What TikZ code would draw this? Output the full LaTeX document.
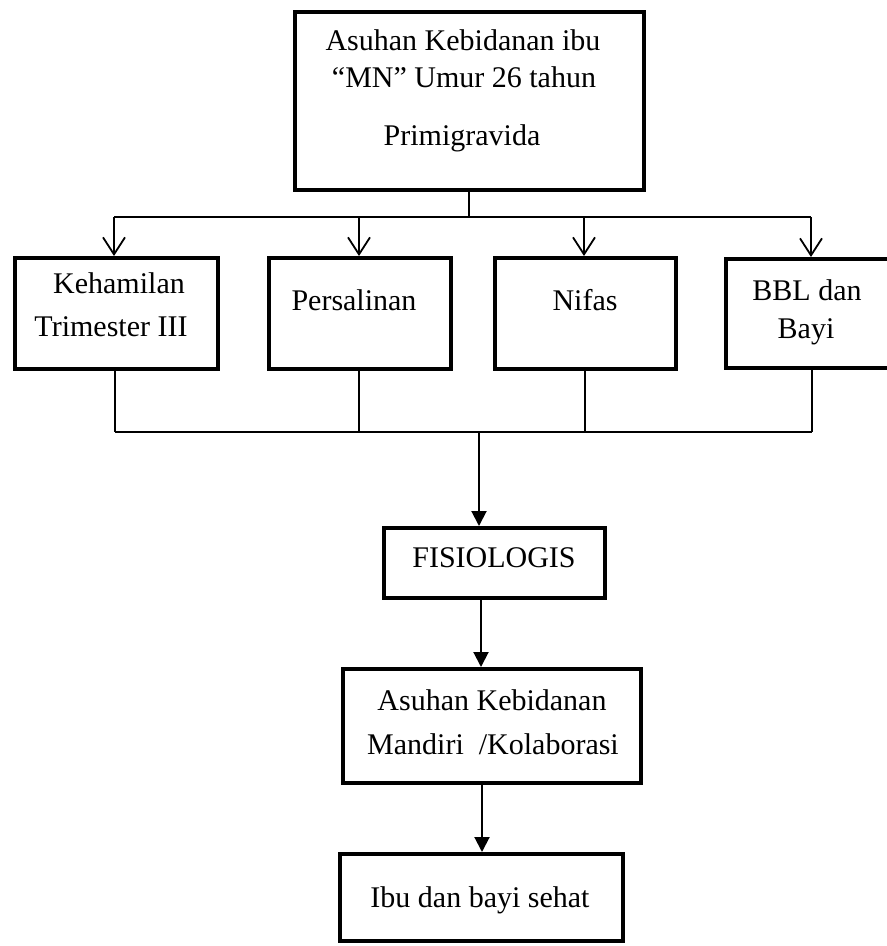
\documentclass[tikz,border=0pt]{standalone}
\usepackage{fontspec}
\setmainfont{Liberation Serif}
\usetikzlibrary{arrows.meta}
\begin{document}
\begin{tikzpicture}[x=1pt,y=-1pt,
  box/.style={draw,line width=4pt,rectangle,inner sep=0pt,minimum width=#1},
  txt/.style={anchor=base,inner sep=0pt,font=\fontsize{30}{36}\selectfont},
  thin/.style={line width=1.5pt},
  openarrow/.style={line width=1.8pt,-{Straight Barb[length=17pt,width=22pt,line width=1.8pt]}},
  fillarrow/.style={line width=2pt,-{Triangle[length=15pt,width=15pt]}}]
\useasboundingbox (0,0) rectangle (887,946);
\clip (0,0) rectangle (887,946);
% boxes
\node[box=349pt,minimum height=178pt] (top) at (469.5,101) {};
\node[box=203pt,minimum height=111pt] (b1) at (116.5,313.5) {};
\node[box=182pt,minimum height=111pt] (b2) at (360,313.5) {};
\node[box=181pt,minimum height=111pt] (b3) at (585.5,313.5) {};
\node[box=220pt,minimum height=109pt] (b4) at (836,313.5) {};
\node[box=221pt,minimum height=70pt] (fis) at (494.5,563) {};
\node[box=298pt,minimum height=114pt] (asu) at (492,726) {};
\node[box=283pt,minimum height=87pt] (ibu) at (481.5,897.5) {};
% texts
\node[txt] (t1a) at (463,50) {Asuhan Kebidanan ibu};
\node[txt] (t1b) at (464,87) {“MN” Umur 26 tahun};
\node[txt] (t1c) at (462,145) {Primigravida};
\node[txt] (k1) at (119,293) {Kehamilan};
\node[txt] (k2) at (111,336) {Trimester III};
\node[txt] (p1) at (354,310) {Persalinan};
\node[txt] (n1) at (585,310) {Nifas};
\node[txt] (bb1) at (807,300) {BBL dan};
\node[txt] (bb2) at (806,338) {Bayi};
\node[txt] (f1) at (494,567) {FISIOLOGIS};
\node[txt] (a1) at (492,710) {Asuhan Kebidanan};
\node[txt] (a2) at (493,754) {Mandiri \ /Kolaborasi};
\node[txt] (i1) at (480,907) {Ibu dan bayi sehat};
% top distribution
\coordinate (j1) at (469,217);
\coordinate (u1) at (114,217);
\coordinate (u2) at (359,217);
\coordinate (u3) at (584,217);
\coordinate (u4) at (811,217);
\draw[thin] (top.south -| j1) -- (j1);
\draw[thin] (u1) -- (u4);
\draw[openarrow] (u1) -- (u1 |- b1.north);
\draw[openarrow] (u2) -- (u2 |- b2.north);
\draw[openarrow] (u3) -- (u3 |- b3.north);
\draw[openarrow] (u4) -- (u4 |- b4.north);
% bottom collection
\coordinate (d1) at (115,432);
\coordinate (d2) at (359,432);
\coordinate (d3) at (585,432);
\coordinate (d4) at (812,432);
\coordinate (j2) at (479,432);
\draw[thin] (d1 |- b1.south) -- (d1);
\draw[thin] (d2 |- b2.south) -- (d2);
\draw[thin] (d3 |- b3.south) -- (d3);
\draw[thin] (d4 |- b4.south) -- (d4);
\draw[thin] (d1) -- (d4);
\draw[fillarrow] (j2) -- (j2 |- fis.north);
% lower chain
\coordinate (j3) at (481,600);
\coordinate (j4) at (482,785);
\draw[fillarrow] (j3 |- fis.south) -- (j3 |- asu.north);
\draw[fillarrow] (j4 |- asu.south) -- (j4 |- ibu.north);
\end{tikzpicture}
\end{document}
